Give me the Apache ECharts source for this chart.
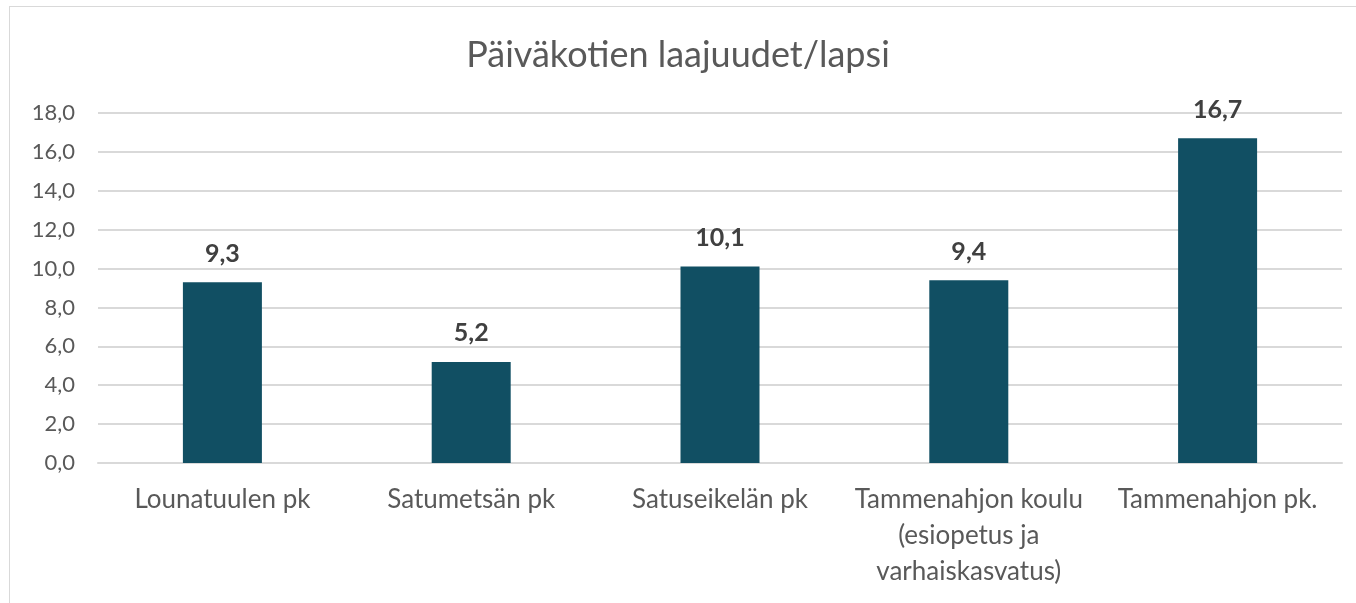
<!DOCTYPE html>
<html>
<head>
<meta charset="utf-8">
<script src="https://cdn.jsdelivr.net/npm/echarts@6/dist/echarts.min.js"></script>
<style>
  html, body { margin: 0; padding: 0; background: #fff; }
  #frame { position: absolute; left: 9px; top: 6px; width: 1400px; height: 650px; border: 1.5px solid #d9d9d9; box-sizing: border-box; }
  #chart { position: absolute; left: 0; top: 0; width: 1356px; height: 603px; }
</style>
</head>
<body>
<div id="frame"></div>
<div id="chart"></div>
<script>
// päiväkodit ja arvot
const categories = ['Lounatuulen pk', 'Satumetsän pk', 'Satuseikelän pk', 'Tammenahjon koulu\n(esiopetus ja\nvarhaiskasvatus)', 'Tammenahjon pk.']
const values = [9.3, 5.2, 10.1, 9.4, 16.7]

const fmt = v => v.toFixed(1).replace('.', ',')

const chart = echarts.init(document.getElementById('chart'))
chart.setOption({
  animation: false,
  textStyle: { fontFamily: 'Lato' },
  title: {
    text: 'Päiväkotien laajuudet/lapsi',
    left: 'center',
    top: 32,
    textStyle: { fontSize: 36, fontWeight: 'normal', color: '#595959', fontFamily: 'Lato' }
  },
  grid: { left: 98, right: 14, top: 113, bottom: 140 },
  xAxis: {
    type: 'category',
    data: categories,
    axisLine: { lineStyle: { color: '#d9d9d9', width: 2 } },
    axisTick: { show: false },
    axisLabel: { color: '#595959', fontSize: 26, lineHeight: 36, margin: 19, interval: 0 }
  },
  yAxis: {
    type: 'value',
    min: 0,
    max: 18,
    interval: 2,
    axisLine: { show: false },
    axisTick: { show: false },
    axisLabel: { color: '#595959', fontSize: 22, margin: 23, formatter: fmt },
    splitLine: { lineStyle: { color: '#d9d9d9', width: 2 } }
  },
  series: [{
    type: 'bar',
    data: values,
    barWidth: 79,
    itemStyle: { color: '#114f63' },
    label: {
      show: true,
      position: 'top',
      distance: 16,
      color: '#404040',
      fontSize: 25,
      fontWeight: 'bold',
      formatter: p => fmt(p.value)
    }
  }]
})
</script>
</body>
</html>
